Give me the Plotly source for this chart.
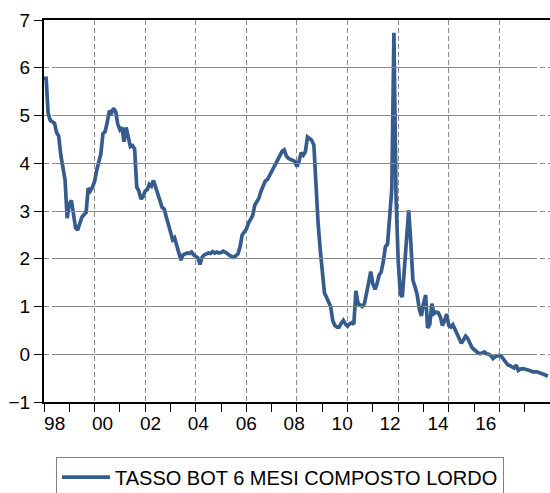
import pandas as pd
import plotly.graph_objects as go

# Tasso BOT 6 mesi composto lordo, dati mensili gen 1998 - dic 2017
rate_1998 = [5.78, 5.78, 5.05, 4.90, 4.87, 4.84, 4.65, 4.57, 4.17, 3.90, 3.65, 2.85]
rate_1999 = [3.15, 3.22, 3.00, 2.65, 2.60, 2.75, 2.87, 2.92, 2.97, 3.48, 3.42, 3.50]
rate_2000 = [3.62, 3.85, 4.00, 4.20, 4.62, 4.66, 4.85, 5.10, 5.05, 5.15, 5.08, 4.82]
rate_2001 = [4.70, 4.75, 4.45, 4.75, 4.55, 4.35, 4.37, 4.30, 3.50, 3.42, 3.25, 3.30]
rate_2002 = [3.42, 3.45, 3.56, 3.52, 3.64, 3.51, 3.35, 3.23, 3.08, 3.04, 2.87, 2.72]
rate_2003 = [2.55, 2.40, 2.44, 2.30, 2.12, 1.97, 2.08, 2.11, 2.12, 2.11, 2.14, 2.08]
rate_2004 = [2.04, 2.02, 1.88, 2.03, 2.08, 2.11, 2.12, 2.11, 2.15, 2.12, 2.14, 2.12]
rate_2005 = [2.13, 2.16, 2.14, 2.11, 2.07, 2.04, 2.03, 2.06, 2.10, 2.25, 2.50, 2.56]
rate_2006 = [2.62, 2.75, 2.84, 2.90, 3.12, 3.20, 3.27, 3.42, 3.53, 3.63, 3.66, 3.74]
rate_2007 = [3.83, 3.91, 3.98, 4.07, 4.17, 4.25, 4.28, 4.15, 4.10, 4.08, 4.07, 4.04]
rate_2008 = [3.93, 4.05, 4.22, 4.17, 4.24, 4.55, 4.52, 4.48, 4.38, 3.40, 2.75, 2.20]
rate_2009 = [1.62, 1.28, 1.20, 1.10, 1.00, 0.70, 0.60, 0.57, 0.57, 0.65, 0.71, 0.63]
rate_2010 = [0.59, 0.64, 0.66, 0.63, 1.33, 1.06, 1.03, 1.00, 1.06, 1.25, 1.50, 1.73]
rate_2011 = [1.47, 1.36, 1.47, 1.66, 1.72, 1.95, 2.25, 2.31, 2.95, 3.45, 6.73, 3.30]
rate_2012 = [1.97, 1.27, 1.20, 1.85, 2.30, 3.02, 2.35, 1.55, 1.41, 1.25, 0.95, 0.80]
rate_2013 = [1.06, 1.24, 0.55, 0.62, 1.06, 0.85, 0.88, 0.87, 0.78, 0.60, 0.70, 0.84]
rate_2014 = [0.60, 0.57, 0.62, 0.52, 0.43, 0.30, 0.23, 0.30, 0.38, 0.33, 0.25, 0.14]
rate_2015 = [0.10, 0.05, 0.03, 0.01, 0.03, 0.05, 0.01, 0.00, -0.03, -0.09, -0.05, -0.04]
rate_2016 = [-0.02, -0.05, -0.10, -0.17, -0.22, -0.24, -0.27, -0.29, -0.23, -0.34, -0.31, -0.30]
rate_2017 = [-0.31, -0.32, -0.34, -0.35, -0.37, -0.37, -0.37, -0.39, -0.40, -0.42, -0.44, -0.46]

rates = (rate_1998 + rate_1999 + rate_2000 + rate_2001 + rate_2002 + rate_2003 + rate_2004
         + rate_2005 + rate_2006 + rate_2007 + rate_2008 + rate_2009 + rate_2010 + rate_2011
         + rate_2012 + rate_2013 + rate_2014 + rate_2015 + rate_2016 + rate_2017)
dates = pd.date_range("1998-01-01", periods=len(rates), freq="MS")

# etichette dell'asse x: anni pari 98 ... 16
label_years = pd.date_range("1998-01-01", "2016-01-01", freq="24MS")

x_range = ["1998-01-01", "2018-01-01"]
font = "Arial, Liberation Sans, sans-serif"
grid = dict(showgrid=True, gridcolor="#8a8a8a", gridwidth=1, griddash="5px,3px")

fig = go.Figure()

fig.add_trace(go.Scatter(
    x=dates, y=rates, mode="lines",
    name="TASSO BOT 6 MESI COMPOSTO LORDO",
    line=dict(color="#365c8e", width=3.7)
))

# asse "fantasma" solo per le etichette degli anni (EViews le spazia diversamente)
fig.add_trace(go.Scatter(
    x=[dates[0]], y=[None], xaxis="x2", yaxis="y",
    mode="lines", showlegend=False, hoverinfo="skip"
))

fig.update_layout(
    template="none",
    width=550, height=493,
    margin=dict(l=44, r=0, t=20, b=91, autoexpand=False),
    paper_bgcolor="white", plot_bgcolor="rgba(0,0,0,0)",
    font=dict(family=font, size=19, color="black"),
    showlegend=True,
    legend=dict(
        orientation="h",
        x=0.0237, y=-0.143, xanchor="left", yanchor="top",
        bordercolor="#808080", borderwidth=1,
        font=dict(size=20), itemwidth=48
    ),
    xaxis=dict(
        type="date", range=x_range, automargin=False,
        tick0="1998-01-01", dtick="M24", tickformat="%y",
        showticklabels=False,
        ticks="outside", ticklen=8, tickwidth=1, tickcolor="black",
        minor=dict(dtick="M12", ticks="outside", ticklen=8, tickcolor="black", showgrid=False),
        showline=True, linecolor="black", linewidth=2, mirror=True,
        **grid
    ),
    xaxis2=dict(
        type="date", range=x_range, anchor="y", domain=[0.021, 0.968], automargin=False,
        tickmode="array", tickvals=label_years, tickformat="%y",
        showgrid=False, showline=False, zeroline=False, ticks="",
        ticklabelstandoff=8,
        tickfont=dict(size=19, color="black")
    ),
    yaxis=dict(
        range=[-1, 7], dtick=1, zeroline=False, automargin=False,
        ticks="outside", ticklen=8, tickwidth=1, tickcolor="black",
        showline=True, linecolor="black", linewidth=2,
        tickfont=dict(size=19, color="black"),
        **grid
    ),
)

# niente margine di pagina attorno al grafico, niente barra strumenti
fig.write_html("out.html", config={"displayModeBar": False},
               post_script="document.body.style.margin='0';")
